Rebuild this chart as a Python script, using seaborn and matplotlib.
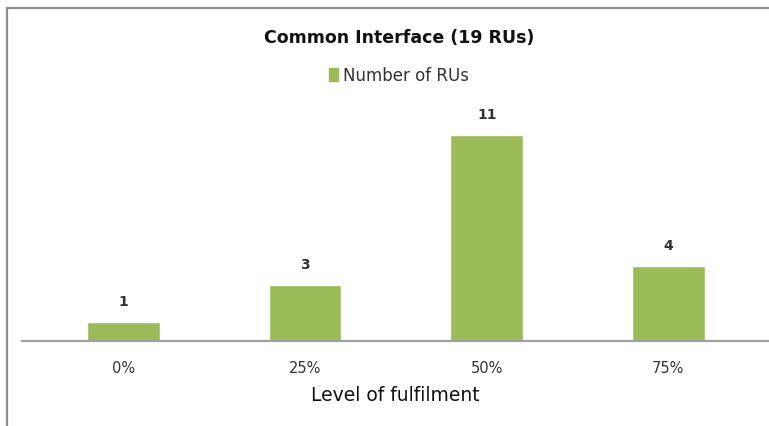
import matplotlib
matplotlib.use("Agg")
import matplotlib.pyplot as plt
import seaborn as sns
from matplotlib.lines import Line2D
from matplotlib.patches import Patch

levels = ["0%", "25%", "50%", "75%"]
n_rus = [1, 3, 11, 4]
title = "Common Interface (19 RUs)"
series_name = "Number of RUs"

green = "#9BBB59"

sns.set_style("white")
plt.rcParams['font.family'] = ['DejaVu Sans']

fig = plt.figure(figsize=(7.69, 4.27), dpi=100)
ax = fig.add_axes([22/769, 1 - 342/427, 1 - 22/769, 242/427])

sns.barplot(x=levels, y=n_rus, color=green, width=0.4, ax=ax, saturation=1)

for i, v in enumerate(n_rus):
    ax.annotate(str(v), (i, v), xytext=(0, 10), textcoords="offset points",
                ha="center", va="bottom", fontsize=10, fontweight="bold", color="#333333")

ax.set_xlim(-0.56, 3.555)
ax.set_ylim(0, 12.92)
ax.set_yticks([])
for s in ["top", "right", "left"]:
    ax.spines[s].set_visible(False)
ax.spines["bottom"].set_color("#a0a0a0")
ax.spines["bottom"].set_linewidth(1.6)
ax.tick_params(axis="x", length=0, pad=14, labelsize=10.5, labelcolor="#333333")
ax.set_xlabel("Level of fulfilment", fontsize=13.5, color="#111111", labelpad=7)

fig.text(399/769, 1 - 38/427, title, ha="center", va="center", fontsize=12.5,
         fontweight="bold", color="#111111")
ax.legend(handles=[Patch(color=green, label=series_name)],
          loc="center", bbox_to_anchor=(399/769, 1 - 76/427), bbox_transform=fig.transFigure,
          frameon=False, fontsize=12, handlelength=0.55, handleheight=0.85,
          handletextpad=0.3, labelcolor="#333333")

# outer frame of the chart box
fig.add_artist(Line2D([7/769, 7/769], [0, 1 - 9/427], transform=fig.transFigure,
                      color="#8c8c8c", lw=1.6))
fig.add_artist(Line2D([7/769, 1], [1 - 9/427, 1 - 9/427], transform=fig.transFigure,
                      color="#8c8c8c", lw=1.6))

fig.savefig("out.png", dpi=100)
